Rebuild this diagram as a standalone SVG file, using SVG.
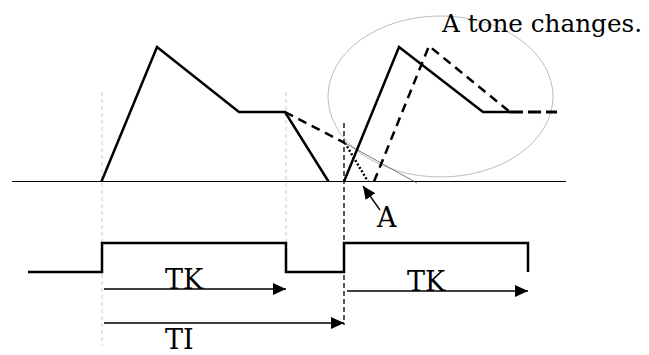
<svg xmlns="http://www.w3.org/2000/svg" width="649" height="355" viewBox="0 0 649 355">
<defs>
<marker id="ah" markerWidth="13" markerHeight="12" viewBox="0 0 13 12" refX="13" refY="6" orient="auto" markerUnits="userSpaceOnUse">
<path d="M0,0 L13,6 L0,12 Z" fill="#000"/>
</marker>
</defs>
<style>
.guide{stroke:#c8c8c8;stroke-width:1;stroke-dasharray:4 3;fill:none}
.axis{stroke:#000;stroke-width:1.2;fill:none}
.wave{stroke:#000;stroke-width:2.5;fill:none;stroke-linejoin:miter}
.dash{stroke:#000;stroke-width:2.5;fill:none;stroke-dasharray:9 6}
.dot{stroke:#000;stroke-width:2.5;fill:none;stroke-dasharray:2 2}
.thin{stroke:#555;stroke-width:0.8;fill:none}
.arrow{stroke:#000;stroke-width:1.3;fill:none}
.lbl{font-family:"DejaVu Serif","Liberation Serif",serif;font-size:27px;fill:#000}
.note{font-family:"DejaVu Serif","Liberation Serif",serif;font-size:25px;fill:#000}
</style>
<g id="guides">
<line class="guide" x1="102" y1="92" x2="102" y2="345"/>
<line class="guide" x1="286" y1="92" x2="286" y2="243"/>
</g>
<g id="ellipse-region">
<ellipse cx="440.5" cy="96.5" rx="112.5" ry="80.5" fill="none" stroke="#b4b4b4" stroke-width="0.9"/>
<text x="442" y="31.5" class="note" textLength="200" lengthAdjust="spacingAndGlyphs">A tone changes.</text>
</g>
<g id="axis">
<line class="axis" x1="12" y1="181.5" x2="566" y2="181.5"/>
</g>
<g id="tone1">
<polyline class="wave" points="101.5,181.5 157,47 239,112 285,112 328.5,181.5"/>
<line class="dash" x1="285" y1="112" x2="345" y2="143"/>
<line class="dot" x1="345" y1="143" x2="368" y2="181.5"/>
<line class="thin" x1="345" y1="143" x2="417" y2="183"/>
</g>
<g id="tone2">
<polyline class="wave" points="344,181.5 399,47 483,112 510,112"/>
<polyline class="dash" points="374,181.5 429,46 510,112"/>
<line class="dash" x1="510" y1="112" x2="557" y2="112" style="stroke-width:3;stroke-dasharray:13 5"/>
</g>
<g id="pulse">
<polyline class="wave" points="28,272 102,272 102,243 286,243 286,272 344,272 344,243 528,243 528,272"/>
</g>
<g id="connectors">
<line x1="344" y1="123" x2="344" y2="325" stroke="#000" stroke-width="1.3" stroke-dasharray="5 3"/>
<line class="arrow" x1="104" y1="289" x2="286" y2="289" marker-end="url(#ah)"/>
<line class="arrow" x1="104" y1="323" x2="344" y2="323" marker-end="url(#ah)"/>
<line class="arrow" x1="347" y1="291" x2="528" y2="291" marker-end="url(#ah)"/>
<line class="arrow" x1="380" y1="210" x2="363" y2="186" marker-end="url(#ah)"/>
</g>
<g id="labels">
<text x="165" y="289" class="lbl">TK</text>
<text x="407" y="291" class="lbl">TK</text>
<text x="165" y="349" class="lbl">TI</text>
<text x="377" y="227" class="lbl">A</text>
</g>
</svg>
